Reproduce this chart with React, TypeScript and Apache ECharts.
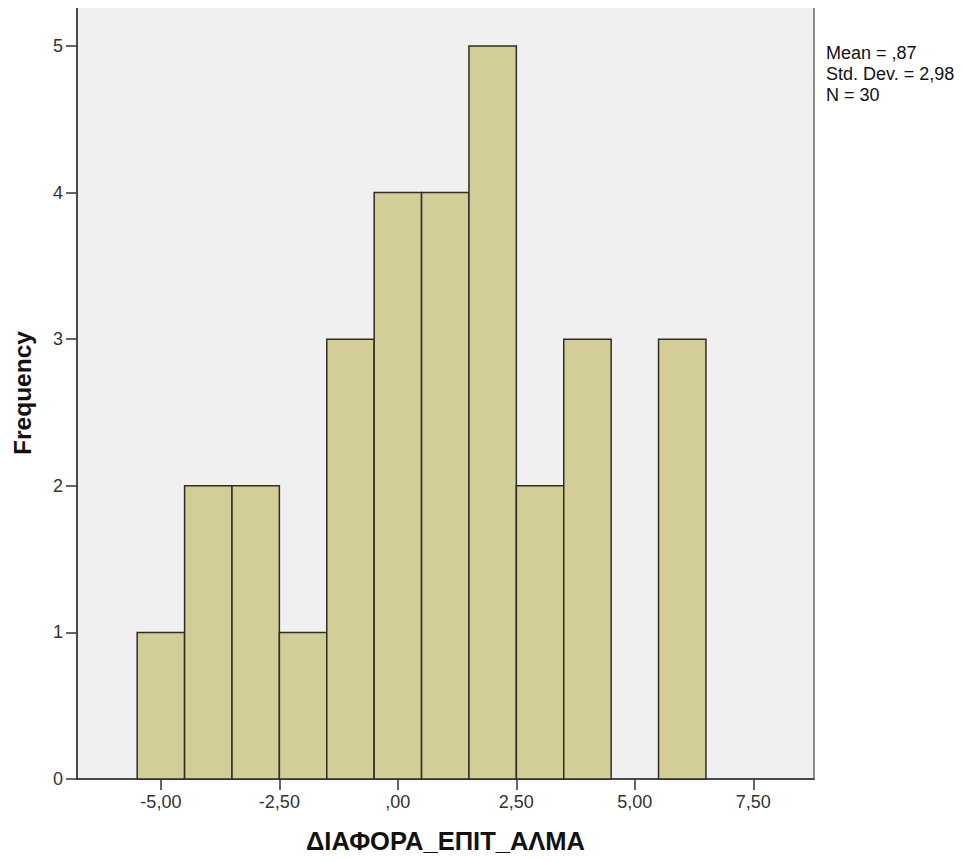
import React, { useEffect, useRef } from "react";
import * as echarts from "echarts";

const binCenters = [-5, -4, -3, -2, -1, 0, 1, 2, 3, 4, 5, 6];
const frequencies = [1, 2, 2, 1, 3, 4, 4, 5, 2, 3, 0, 3];
const binWidth = 1;
const xTickValues = [-5, -2.5, 0, 2.5, 5, 7.5];
const xTickLabels = ["-5,00", "-2,50", ",00", "2,50", "5,00", "7,50"];
const yTickValues = [0, 1, 2, 3, 4, 5];
const statsLines = ["Mean = ,87", "Std. Dev. = 2,98", "N = 30"];
const xTitle = "ΔΙΑΦΟΡΑ_ΕΠΙΤ_ΑΛΜΑ";
const yTitle = "Frequency";

export default function App() {
  const ref = useRef<HTMLDivElement>(null);
  useEffect(() => {
    if (!ref.current) return;
    const chart = echarts.init(ref.current, null, { renderer: "svg" });
    const data = binCenters.map((c, i) => [c - binWidth / 2, c + binWidth / 2, frequencies[i]]);
    const font = "'Liberation Sans', Arial, sans-serif";
    chart.setOption({
      animation: false,
      backgroundColor: "#ffffff",
      grid: {
        left: 77,
        top: 7,
        right: 149,
        bottom: 81,
        show: true,
        backgroundColor: "#f0f0f0",
        borderColor: "#6a6a6a",
        borderWidth: 1.5,
      },
      xAxis: {
        type: "value",
        min: -6.77,
        max: 8.78,
        splitLine: { show: false },
        axisLine: { show: true, onZero: false, lineStyle: { color: "#333333", width: 1.5 } },
        axisTick: {
          show: true,
          customValues: xTickValues,
          length: 11,
          lineStyle: { color: "#333333", width: 1.5 },
        },
        axisLabel: {
          customValues: xTickValues,
          formatter: (v: number) => {
            const i = xTickValues.findIndex((t) => Math.abs(t - v) < 1e-6);
            return i >= 0 ? xTickLabels[i] : "";
          },
          color: "#333333",
          fontFamily: font,
          fontSize: 18,
          margin: 14,
        },
        name: xTitle,
        nameLocation: "middle",
        nameGap: 47,
        nameTextStyle: {
          color: "#111111",
          fontFamily: font,
          fontSize: 25.5,
          fontWeight: "bold",
          lineHeight: 30,
        },
      },
      yAxis: {
        type: "value",
        min: 0,
        max: 5.266,
        splitLine: { show: false },
        axisLine: { show: true, onZero: false, lineStyle: { color: "#333333", width: 1.5 } },
        axisTick: {
          show: true,
          customValues: yTickValues,
          length: 11,
          lineStyle: { color: "#333333", width: 1.5 },
        },
        axisLabel: {
          customValues: yTickValues,
          color: "#333333",
          fontFamily: font,
          fontSize: 18,
          margin: 14,
        },
        name: yTitle,
        nameLocation: "middle",
        nameGap: 42,
        nameRotate: 90,
        nameTextStyle: { color: "#111111", fontFamily: font, fontSize: 24.5, fontWeight: "bold" },
      },
      series: [
        {
          type: "custom",
          data,
          renderItem: (params: any, api: any) => {
            const x0 = api.value(0);
            const x1 = api.value(1);
            const f = api.value(2);
            if (!f) return null;
            const p0 = api.coord([x0, f]);
            const p1 = api.coord([x1, 0]);
            return {
              type: "rect",
              shape: { x: p0[0], y: p0[1], width: p1[0] - p0[0], height: p1[1] - p0[1] },
              style: { fill: "#d3ce97", stroke: "#2e2e24", lineWidth: 1.5 },
            };
          },
          encode: { x: [0, 1], y: 2 },
        },
      ],
      graphic: statsLines.map((t, i) => ({
        type: "text",
        left: 826,
        top: 44 + i * 21,
        style: { text: t, fill: "#111111", font: `18px ${font}` },
      })),
    });
    return () => chart.dispose();
  }, []);
  return <div ref={ref} style={{ width: 963, height: 861, margin: -8 }} />;
}
